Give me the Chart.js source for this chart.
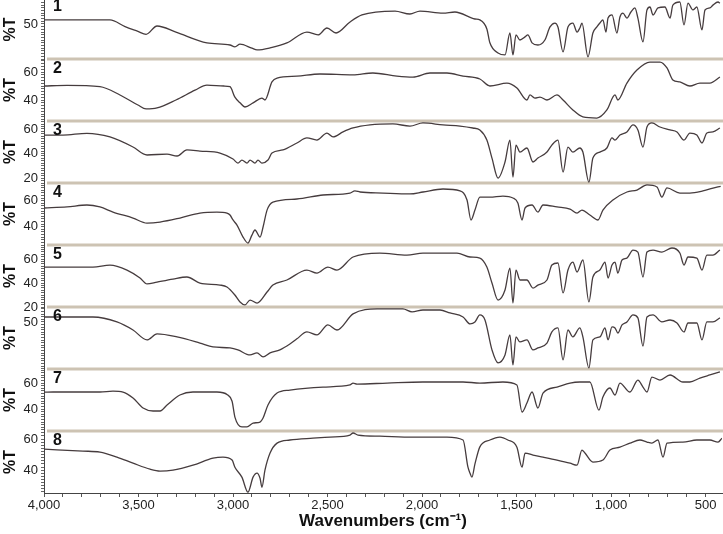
<!DOCTYPE html>
<html><head><meta charset="utf-8">
<script src="https://cdn.jsdelivr.net/npm/chart.js@4"></script>
<style>html,body{margin:0;padding:0;background:#fff;} #wrap{width:723px;height:534px;}</style>
</head><body><div id="wrap"><canvas id="c" width="723" height="534"></canvas></div>
<script>
// ---- Data: wavenumbers (cm-1) and %T for each spectrum ----
const wn1 = [4000,3800,3651,3571,3503,3460,3402,3302,3138,3016,2990,2963,2900,2873,2804,2715,2609,2550,2503,2455,2381,2318,2143,2064,2011,1889,1826,1720,1694,1657,1641,1598,1561,1535,1519,1503,1482,1455,1440,1418,1387,1350,1323,1297,1281,1254,1228,1202,1180,1165,1154,1122,1096,1075,1059,1043,1027,1016,995,969,953,937,916,895,874,858,831,810,794,778,752,715,688,673,636,614,593,567,546,519,503,477,461,434,424];
const t1 = [53,53,53,48,44.5,42.3,48.5,44,36,34.4,33,35,32,30.7,32.2,35.9,44,41.9,47,43.3,51.5,56.7,59.6,57.4,59.6,58,58.9,53.7,53,46.3,36,28.5,27,43.3,27,41.9,38.1,40.4,41.9,36,34.4,38.1,47.8,50.7,47.8,29.3,47.8,50.7,44,47,50.7,25.6,43.3,47.8,50.7,53,44,54.4,56.7,43.3,55.2,58,54.4,58.9,61.9,54.4,36.7,60.4,62.6,56.7,61.9,62.6,54.4,64,66.3,49.3,65.5,60.4,62.6,45.6,60.4,61.9,64,66.3,65.5];

const wn2 = [4000,3878,3704,3598,3503,3460,3402,3302,3201,3138,3048,3016,2990,2963,2937,2894,2847,2831,2794,2767,2662,2540,2365,2260,2133,2048,1958,1868,1783,1694,1641,1551,1498,1445,1429,1403,1376,1339,1286,1254,1202,1149,1075,1022,979,964,916,863,794,741,704,673,636,583,530,477,424];
const t2 = [50,50.5,49.5,43.6,36.4,33.6,34.3,40,47,50.7,50,49.5,42,38,35,37.9,41.4,40,52.9,55.7,57.1,58.6,57.9,59.3,57.1,56.4,59.3,59.3,57.1,55,50,52.1,48.6,40,43.6,41.4,42.1,40,43.6,40,32.9,27.9,27.1,32.9,43.6,40,52.1,61.4,67.1,67.1,62.9,54.3,52.9,50,52.1,52.1,56.4];

const wn3 = [4000,3900,3773,3651,3529,3455,3349,3296,3244,3175,3069,3000,2974,2953,2926,2910,2884,2868,2847,2815,2794,2736,2662,2609,2556,2503,2471,2418,2365,2275,2154,2064,1995,1889,1799,1731,1694,1657,1630,1598,1561,1535,1519,1503,1482,1445,1413,1387,1339,1313,1281,1254,1228,1202,1165,1149,1117,1096,1059,1022,995,979,953,916,884,858,831,810,784,741,688,651,614,583,546,519,493,461,424];
const t3 = [55,55,56.5,53.5,45.3,38.8,39.6,38,42.9,42,40.4,35.5,32.2,34.7,32.2,34.7,32.2,34.7,32.2,34.7,40.4,42.9,48.6,52.7,51,56.7,53.5,57.6,60.8,63.3,64.1,62.4,64.9,63.3,62.4,60.8,59.2,51,36.3,20,33.1,51,20.8,46.9,41.2,44.5,33.1,36.3,41.2,46.9,51,24.9,45.3,41.2,44.5,41.2,16.7,36.3,41.2,44.5,52.7,51,55.1,57.6,63.3,59.2,45.3,61.6,64.9,61.6,59.2,57.6,51,56.7,55.1,48.6,56.7,57.6,60.8];

const wn4 = [4000,3878,3773,3704,3635,3529,3455,3386,3281,3175,3085,3032,3016,3000,2979,2947,2921,2900,2884,2857,2841,2820,2789,2662,2524,2381,2355,2328,2207,2064,1995,1889,1799,1762,1741,1720,1694,1641,1572,1519,1493,1471,1455,1418,1387,1360,1286,1217,1180,1154,1112,1069,1043,990,916,863,810,757,731,704,636,583,514,440,420];
const t4 = [54.4,55.2,56.7,55.2,51.3,46.7,42.8,43.6,46.7,50.5,51.3,50.5,49,45.2,41.3,32.1,27.5,33.6,37.5,32.1,39.8,52.8,59,61.3,64.4,65.9,67.5,66.7,65.9,65.2,66.7,69,67.5,60.5,45.2,52.8,62.8,62.8,63.6,62.1,58.2,45.2,54.4,56.7,51.3,56.7,55.2,53.6,50.5,52.8,49,45.2,52.8,60.5,66.7,68.2,72.1,70.5,62.8,69.8,65.9,65.9,67.5,70.5,71];

const wn5 = [4000,3741,3651,3561,3492,3455,3402,3318,3244,3175,3069,3032,2990,2963,2937,2910,2873,2820,2789,2715,2609,2556,2498,2450,2365,2223,2080,1995,1815,1746,1694,1657,1630,1598,1561,1535,1519,1503,1482,1445,1413,1387,1339,1313,1281,1254,1228,1202,1180,1149,1117,1096,1059,1032,1016,995,979,964,942,916,884,858,831,810,778,731,678,636,614,593,546,519,493,461,424];
const t5 = [53.3,53.3,55,50.8,44.2,39.2,40.8,43.3,45,40,38.3,36.7,30,24.2,21.7,25.8,23.3,32.5,38.3,42.5,50.8,48.3,53.3,50.8,61.7,65,63.3,65,65,61.7,60.8,53.3,40,25.8,34.2,52.5,23.3,50.8,42.5,42.5,35.8,38.3,42.5,55,56.7,31.7,50.8,57.5,49.2,59.2,24.2,45,50.8,57.5,44.2,55,57.5,48.3,59.2,60.8,67.5,65.8,45,65.8,67.5,65.8,69.2,65,55,61.7,60.8,50.8,63.3,63.3,67.5];

const wn6 = [4000,3741,3614,3529,3455,3402,3296,3175,3106,3016,2974,2910,2873,2841,2804,2752,2699,2662,2609,2556,2498,2450,2365,2238,2101,2053,1995,1905,1852,1783,1746,1720,1694,1667,1630,1598,1561,1535,1519,1503,1482,1445,1413,1387,1339,1313,1281,1254,1228,1202,1165,1149,1117,1096,1059,1032,1016,995,979,964,942,916,884,858,831,810,778,731,688,651,614,593,546,519,493,461,424];
const t6 = [53.8,53.8,50,43.8,36.2,40.8,38.5,33.8,30.8,30,28.5,24.6,26.2,23.1,26.2,28.5,33,37,42.3,40,47.7,43.8,56.2,60,60,57.7,59.2,59.2,56.9,53.8,48.5,50,55.4,51.5,28.5,18.5,24.6,40,16.9,38.5,34.6,36.2,28.5,30,33.8,42.3,45.4,20.8,43.8,38.5,45.4,38.5,14.6,36.2,38.5,45.4,36.2,46.2,45.4,41.5,47.7,50,55.4,53.1,31.5,53.8,55.4,50,51.5,49.2,42.3,49.2,49.2,36.2,50,50,53.1];

const wn7 = [4000,3952,3704,3635,3582,3529,3476,3423,3386,3349,3281,3212,3085,3030,3005,2990,2953,2926,2894,2857,2841,2815,2767,2699,2524,2381,2365,2344,2185,1995,1783,1694,1572,1498,1471,1445,1418,1387,1360,1286,1217,1165,1112,1064,1043,1006,979,953,900,858,831,810,784,741,688,620,583,530,477,424];
const t7 = [53,53.1,53.1,53.8,53.1,48.5,40.8,38.5,38.5,43.1,50.8,53.1,53.1,51,46,33.8,26.2,26.2,29.2,30,33.1,43.1,52.3,54.6,56.9,58.5,60,59.2,60,60.8,60.8,60,60.8,58.5,37.7,44.6,53.1,40.8,52.3,56.9,60,60.8,60.8,39.2,49.2,56.2,50.8,60,53.1,62.3,56.9,53.1,64.6,62.3,66.2,60.8,60.8,63.8,66.2,68.5];

const wn8 = [4000,3794,3704,3614,3529,3439,3386,3318,3212,3106,3053,3005,2990,2953,2921,2894,2873,2857,2847,2831,2804,2767,2699,2577,2487,2381,2365,2339,2223,2048,1868,1783,1757,1746,1736,1720,1694,1641,1588,1546,1498,1471,1455,1413,1360,1286,1217,1180,1154,1138,1096,1043,1006,953,900,847,810,784,752,725,704,620,546,477,434,413];
const t8 = [53.5,52.3,51.6,48.4,44.5,40.6,39.4,40,43.2,47.7,48.4,46.5,41.9,35.5,25.8,35.5,38.1,34.8,29,40,51,57.4,59.4,60.6,61.3,62.6,63.9,62.6,61.9,61.3,61.3,59.4,41.9,38,35.5,44,55,59.4,61.3,59.4,54.8,41.9,51,49.7,48.4,46.5,44.5,43.2,52.9,51,45.2,46.5,52.9,54.8,57.4,59.4,58.1,57.4,59.4,48.4,57.4,58.1,59.4,59.4,58.1,60.6];

const panelLabels = ['1','2','3','4','5','6','7','8'];
const xTickStep = 500;
const yLabelSteps = [50,20,20,20,20,50,20,20];
const yMins = [24,25,16,26,20,13.8,23.1,25.3];
const yMaxs = [67.8,69.3,66.5,73.6,71.7,61.5,70.8,65.2];
const xTitle = 'Wavenumbers (cm\u207B\u00B9)';
const yTitle = '%T';

// ---- Chart ----
const FONT = '"Liberation Sans", Arial, sans-serif';
const waves = [wn1,wn2,wn3,wn4,wn5,wn6,wn7,wn8];
const trans = [t1,t2,t3,t4,t5,t6,t7,t8];
const ids = panelLabels.map((_, i) => 'y' + (i + 1));
const panelWeights = [59,62,62,62,62,62,62,62];

function isMultiple(v, step) {
  const r = Math.round(v);
  return Math.abs(v - r) < 1e-6 && r % step === 0;
}

const datasets = waves.map((w, i) => ({
  label: panelLabels[i],
  data: w.map((x, j) => ({x: x, y: trans[i][j]})),
  yAxisID: ids[i],
  xAxisID: 'x',
  borderColor: '#463c3e',
  borderWidth: 1.3,
  pointRadius: 0,
  cubicInterpolationMode: 'monotone',
  fill: false
}));

const scales = {
  x: {
    type: 'linear', position: 'bottom', reverse: true, min: 413, max: 4000,
    ticks: {
      stepSize: 100, includeBounds: false, autoSkip: false, maxRotation: 0, padding: 1,
      color: '#222', font: {family: FONT, size: 13},
      callback: v => (isMultiple(v, xTickStep) ? Math.round(v).toLocaleString('en-US') : '')
    },
    grid: {drawOnChartArea: false, tickLength: 4, color: '#555'},
    border: {color: '#444', width: 1},
    title: {display: true, text: xTitle, color: '#111',
      font: {family: FONT, size: 17, weight: 'bold'}, padding: {top: 0, bottom: 2}},
    afterFit: s => { s.height = 41; s.paddingLeft = 0; s.paddingRight = 0; }
  }
};
ids.forEach((id, i) => {
  scales[id] = {
    type: 'linear', position: 'left', stack: 'panels', stackWeight: panelWeights[i],
    weight: ids.length - i, min: yMins[i], max: yMaxs[i],
    ticks: {
      stepSize: 2, includeBounds: false, autoSkip: false, padding: 3, color: '#222',
      font: {family: FONT, size: 13},
      callback: v => (isMultiple(v, yLabelSteps[i]) ? String(Math.round(v)) : '')
    },
    grid: {drawOnChartArea: false, tickLength: 3, color: '#666'},
    border: {color: '#444', width: 1},
    title: {display: true, text: yTitle, color: '#111',
      font: {family: FONT, size: 16, weight: 'bold'}, padding: {top: 1, bottom: 0}},
    afterFit: s => { s.width = 44; s.paddingTop = 0; s.paddingBottom = 0; }
  };
});

const panelDecor = {
  id: 'panelDecor',
  beforeDatasetsDraw(chart) {
    const ctx = chart.ctx, area = chart.chartArea;
    ctx.save();
    ctx.strokeStyle = '#cdc3b3';
    ctx.lineWidth = 3;
    ids.slice(0, ids.length - 1).forEach(id => {
      const y = chart.scales[id].bottom;
      ctx.beginPath();
      ctx.moveTo(area.left + 3, y);
      ctx.lineTo(area.right + 1, y);
      ctx.stroke();
    });
    ctx.restore();
  },
  afterDatasetsDraw(chart) {
    const ctx = chart.ctx, area = chart.chartArea;
    ctx.save();
    ctx.fillStyle = '#111';
    ctx.font = 'bold 16px ' + FONT;
    ctx.textAlign = 'left';
    ctx.textBaseline = 'middle';
    ids.forEach((id, i) => {
      const s = chart.scales[id];
      ctx.fillText(panelLabels[i], area.left + 9, s.top + (i === 0 ? 7 : 10));
    });
    ctx.restore();
  }
};

new Chart(document.getElementById('c'), {
  type: 'line',
  data: {datasets},
  options: {
    responsive: false, animation: false, devicePixelRatio: 1,
    layout: {padding: {top: 0, right: 1, bottom: 0, left: 0}},
    plugins: {legend: {display: false}, tooltip: {enabled: false}},
    scales
  },
  plugins: [panelDecor]
});
</script>
</body></html>
